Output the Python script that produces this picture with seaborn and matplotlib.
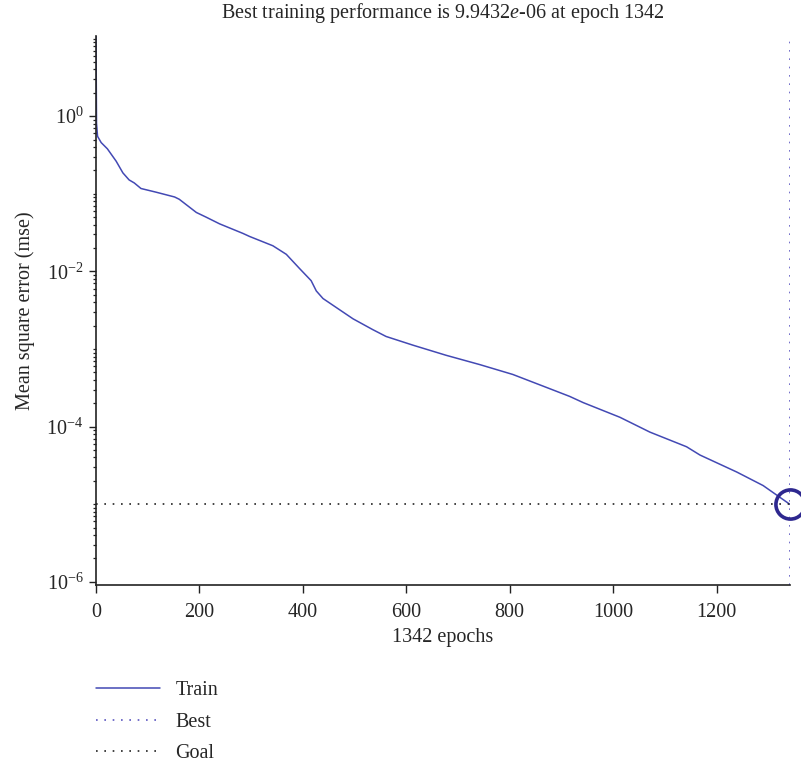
import numpy as np
import pandas as pd
import matplotlib
matplotlib.use("Agg")
import matplotlib.pyplot as plt
import matplotlib.ticker as mticker
import seaborn as sns

# ---- data ----
epochs = [0, 1, 3, 10, 22, 39, 52, 64, 74, 87, 116, 152, 161, 194, 213, 239, 284,
          297, 342, 368, 393, 416, 426, 439, 470, 497, 535, 561, 613, 677, 742, 806,
          871, 916, 942, 1013, 1071, 1142, 1168, 1239, 1290, 1342]
train_mse = [10.7, 0.81, 0.55, 0.457, 0.38, 0.263, 0.186, 0.151, 0.138, 0.117, 0.105,
             0.091, 0.085, 0.0575, 0.050, 0.041, 0.0309, 0.0282, 0.0214, 0.0166, 0.011,
             0.0076, 0.0056, 0.00447, 0.00324, 0.00245, 0.00178, 0.00145, 0.00112,
             0.00083, 0.00063, 0.00047, 0.00032, 0.000245, 0.000204, 0.000132, 8.5e-5,
             5.5e-5, 4.3e-5, 2.6e-5, 1.74e-5, 9.9432e-6]
best_epoch = 1342
best_value = 9.9432e-6
goal = 1e-5
y_major = [1e-6, 1e-4, 1e-2, 1e0]
x_major = [0, 200, 400, 600, 800, 1000, 1200]
legend_labels = ["Train", "Best", "Goal"]

sns.set_theme(style="white")
plt.rcParams["font.family"] = ["Liberation Serif", "DejaVu Serif"]
plt.rcParams["mathtext.fontset"] = "custom"
plt.rcParams["mathtext.rm"] = "Liberation Serif"
plt.rcParams["mathtext.it"] = "Liberation Serif:italic"

FS = 14.5
train_color = "#4349b4"
best_color = "#5a55c0"
circle_color = "#2e288f"
axis_color = "#222222"

fig = plt.figure(figsize=(8.01, 7.71), dpi=100)
ax = fig.add_axes([96 / 801, 1 - 585 / 771, (790 - 96) / 801, (585 - 36) / 771])

df = pd.DataFrame({"epoch": epochs, "mse": train_mse})
sns.lineplot(data=df, x="epoch", y="mse", ax=ax, color=train_color, lw=1.1,
             label=legend_labels[0], legend=False)

ylo, yhi = 9.1e-7, 10.8
ax.set_yscale("log")
ax.set_xlim(0, best_epoch)
ax.set_ylim(ylo, yhi)

# Best (vertical) and Goal (horizontal) lines
lb, = ax.plot([best_epoch, best_epoch], [ylo, yhi], color=best_color, lw=1.2,
              linestyle=(0, (1, 4)), label=legend_labels[1])
lg, = ax.plot([0, best_epoch], [goal, goal], color="#222222", lw=1.2,
              linestyle=(0, (1, 4)), label=legend_labels[2])
ax.plot([best_epoch], [best_value], marker="o", markersize=21, markerfacecolor="none",
        markeredgecolor=circle_color, markeredgewidth=2.6, clip_on=False, zorder=5)

ax.yaxis.set_major_locator(mticker.FixedLocator(y_major))
ax.yaxis.set_major_formatter(mticker.FuncFormatter(
    lambda v, p: r"$10^{%d}$" % int(round(np.log10(v)))))
ax.yaxis.set_minor_locator(mticker.LogLocator(base=10, subs=np.arange(1, 10), numticks=100))
ax.yaxis.set_minor_formatter(mticker.NullFormatter())
ax.xaxis.set_major_locator(mticker.FixedLocator(x_major))

for s in ["top", "right"]:
    ax.spines[s].set_visible(False)
for s in ["left", "bottom"]:
    ax.spines[s].set_color(axis_color)
    ax.spines[s].set_linewidth(1.2)

ax.tick_params(axis="both", which="major", direction="out", length=5, width=1,
               color=axis_color, labelsize=FS, pad=4, bottom=True, left=True)
ax.tick_params(axis="y", which="minor", direction="out", length=2.5, width=0.9,
               color=axis_color, left=True)
ax.tick_params(axis="x", which="major", length=6, pad=7)

ax.set_xlabel(f"{best_epoch} epochs", fontsize=FS, labelpad=4)
ax.set_ylabel("Mean square error (mse)", fontsize=FS, labelpad=8)
ax.set_title(r"Best training performance is 9.9432$\mathit{e}$-06 at epoch 1342",
             fontsize=FS, pad=13)

handles = [ax.lines[0], lb, lg]
fig.legend(handles, legend_labels, loc="upper left", bbox_to_anchor=(96 / 801, 1 - 681 / 771),
           frameon=False, fontsize=FS, handlelength=3.2, handletextpad=0.75,
           labelspacing=0.62, borderpad=0, borderaxespad=0)

fig.savefig("out.png", dpi=100)
